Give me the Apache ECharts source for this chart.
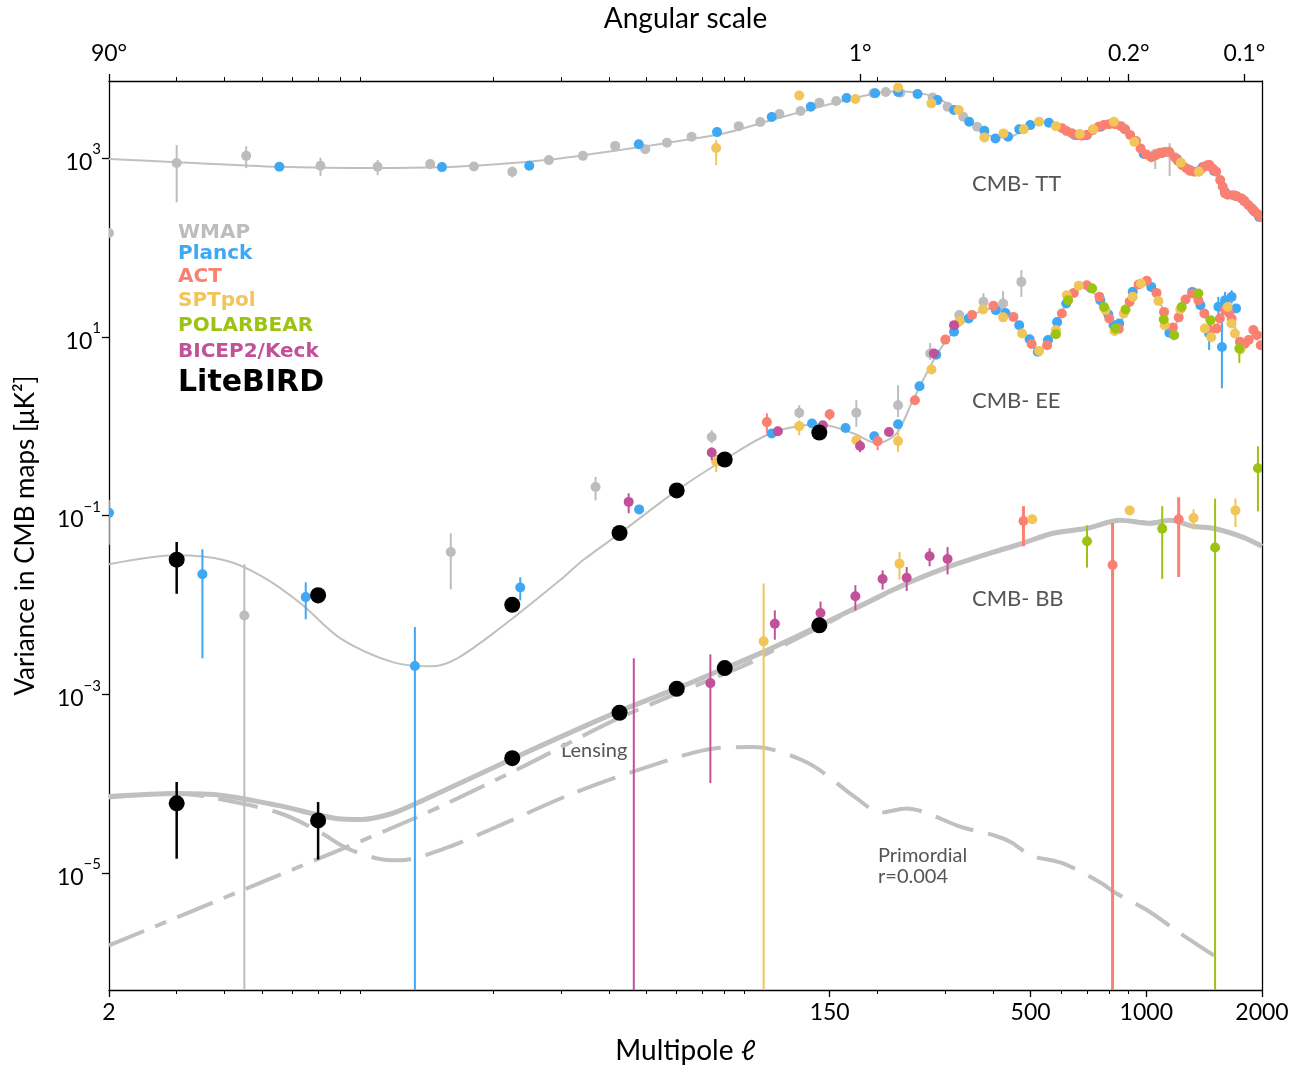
<!DOCTYPE html>
<html><head><meta charset="utf-8">
<script src="https://cdn.jsdelivr.net/npm/echarts@6/dist/echarts.min.js"></script>
<style>html,body{margin:0;padding:0;background:#fff}#c{width:1299px;height:1072px}</style>
</head><body><div id="c"></div>
<script>
// ---------------- axis ticks ----------------
const xTickLabels = [2, 150, 500, 1000, 2000];
const xMinorTicks = [3,4,5,6,7,8,9,20,30,40,50,60,70,80,90,200,300,400,600,700,800,900];
const topAngles = [90, 1, 0.2, 0.1];          // degrees, at ell = 180/theta
const yTickPowers = [-5, -3, -1, 1, 3];

// ---------------- theory curves [ell, D_ell in uK^2] ----------------
const ttTheory = [[2,975],[3,900],[5.5,800],[10,775],[14.4,790],[20,850],[27.4,950],[38,1146],[48,1327],[63,1592],[80,1900],[106,2667],[130,3400],[159,4266],[200,5346],[225,5600],[240,5523],[265,5200],[287,4699],[310,3800],[335,2897],[360,2300],[380,1906],[410,1700],[440,1720],[470,1950],[500,2250],[530,2500],[560,2560],[600,2300],[640,1950],[684,1780],[730,2050],[780,2350],[820,2450],[860,2250],[908,1750],[960,1300],[1007,1100],[1050,1080],[1100,1160],[1146,1190],[1200,1000],[1270,780],[1340,700],[1400,780],[1450,820],[1500,740],[1560,560],[1620,420],[1690,380],[1771,355],[1850,300],[1920,250],[2000,215]];
const eeTheory = [[2,0.0284],[3,0.0358],[4,0.0315],[5,0.0208],[6.3,0.0104],[8,0.00422],[11,0.00227],[13.9,0.00205],[16.1,0.00251],[20.8,0.00546],[29.8,0.0188],[34.2,0.0315],[42.7,0.0632],[60.1,0.191],[80.1,0.426],[107,0.855],[141.6,1.05],[172.6,0.832],[199,0.644],[224,0.832],[247,1.95],[286,6.5],[314,11.2],[348,16.6],[376,19.9],[409,20.9],[440,18.5],[467,13.5],[497,9.4],[523,6.7],[555,9.2],[586,14.6],[619,23.6],[650,31],[684,37.8],[720,33],[755,26],[800,16],[839,11.9],[880,19],[920,28],[960,38],[1005,40.8],[1060,31],[1110,19],[1167,11],[1230,20],[1300,30.8],[1380,22],[1440,15],[1493,11.9],[1560,16],[1623,19.9],[1700,13],[1755,7.6],[1850,9.5],[1920,11],[2000,11]];
const bbTotal = [[2,7.18e-5],[3,7.74e-5],[3.95,7.36e-5],[5.5,5.69e-5],[7.8,4.07e-5],[9.06,3.96e-5],[10.9,4.62e-5],[12.6,5.98e-5],[22.8,1.96e-4],[41.2,6.1e-4],[60.1,1.16e-3],[80.1,1.95e-3],[103,3.09e-3],[141.6,5.89e-3],[174.6,9.14e-3],[238.6,0.0174],[303,0.0263],[392,0.0378],[477,0.0489],[571,0.0632],[701,0.0719],[855,0.0884],[1023,0.0818],[1153,0.0884],[1324,0.0757],[1493,0.0719],[1787,0.057],[2000,0.0452]];
const bbLensing = [[2,1.54e-6],[4.49,6.5e-6],[12.6,4.17e-5],[22.8,1.40e-4],[41.2,5.09e-4],[60.1,1.02e-3],[90,2.1e-3],[103,2.83e-3],[142,5.7e-3],[175,9.0e-3],[239,0.0172],[303,0.0262],[392,0.0377],[477,0.0489],[571,0.0632],[701,0.0719],[855,0.0884],[1023,0.0818],[1153,0.0884],[1324,0.0757],[1493,0.0719],[1787,0.057],[2000,0.0452]];
const bbPrimordial = [[2,6.99e-5],[3,7.74e-5],[3.68,6.99e-5],[5.5,4.74e-5],[6.97,2.98e-5],[8.24,1.92e-5],[9.96,1.45e-5],[11.4,1.38e-5],[14.9,1.87e-5],[20.2,3.22e-5],[32.2,7.74e-5],[51.8,1.6e-4],[75.1,2.47e-4],[95.3,2.56e-4],[131.8,1.7e-4],[175,6.99e-5],[204,4.74e-5],[237,5.26e-5],[333,3.22e-5],[403,2.62e-5],[446,2.19e-5],[500,1.57e-5],[609,1.27e-5],[759,7.8e-6],[830,6.0e-6],[1008,3.79e-6],[1227,2.1e-6],[1500,1.19e-6]];

// ---------------- measurements [ell, D, low, high] (null D: only the bar is seen) ----------------
const wmapTT = [[2,145],[3,880,320,1400],[4.55,1060,773,1360],[7.1,820,633,1008],[10,800,645,950],[13.7,857,753,950],[17.8,807,740,880],[22.4,703,607,800],[27.9,950],[34.2,1060],[41.5,1370],[49.7,1260],[56.6,1484],[65.6,1733],[87,2280],[99,2530],[111,3110],[126,3360],[141,4160],[156,4350],[195,5310],[210,5490],[229,5390],[278,4770],[304,3760],[334,2900],[363,2240],[1055,1120,753,1230],[1150,1150,630,1470]];
const wmapEE = [[4.5,0.0076,1e-8,0.0284],[15.5,0.039,0.0149,0.063],[36.9,0.208,0.148,0.27],[74,0.757,0.644,0.9],[125,1.41,1.22,1.71],[176,1.41,0.98,1.95],[226,1.71,1.26,2.87],[274,6.5,5.5,8.5],[326,17.5,15.3,19.9],[377,24.6,20.9,30.8],[424,23.6,18.4,32.4],[473,41.2,28,55.7]];
const planckTT = [[5.55,800],[14.7,793],[24.8,820],[47.8,1430],[76.4,1955],[106,2880],[134,3760],[166,4700],[197,5310],[226,5490],[254,5210],[286,4460],[316,3450],[346,2550],[379,2020],[405,1660],[437,1730],[467,2100],[499,2340],[558,2490],[651,1810],[700,1800],[760,2250],[820,2450],[880,2100],[985,1110],[1100,1140],[1200,980],[1300,730],[1400,790],[1500,720],[1600,420],[1700,380],[1800,330],[1900,260],[1965,220]];
const planckEE = [[2,0.107,0.047,0.15],[3.5,0.022,0.00252,0.0419],[6.5,0.0122,0.00689,0.0179],[12.5,0.00207,1e-8,0.00564],[23.5,0.0156,0.0112,0.0203],[47.9,0.117],[77,0.42],[106,0.826],[135,1.07],[165,0.955],[196,0.77],[226,1.05],[257,2.8],[284,6.3],[316,11.4],[345,16.0],[406,19.9],[430,18.5],[467,13.5],[497,9.4],[522,6.8],[555,9.2],[586,14.6],[619,23.6],[718,35],[759,25.7],[796,17.9],[822,13.5],[850,14.1],[922,32],[1030,36.2],[1148,11.1],[1317,31.8],[1383,22.6],[1457,10.9,7.1,14.2],[1540,21.7,16.7,28],[1573,7.7,2.65,23.8],[1603,25.7,19.9,31.8],[1667,28,23.6,33.2],[1712,20.8]];
const actTT = [[604,2160],[620,2010],[640,1900],[660,1800],[680,1780],[700,1810],[725,2050],[751,2240],[775,2350],[800,2400],[830,2400],[859,2280],[880,2100],[908,1810],[940,1550],[966,1285],[1000,1100],[1030,1020],[1060,1080],[1085,1150],[1115,1170],[1146,1177],[1188,1018],[1210,930],[1240,830],[1274,766],[1300,720],[1335,703],[1380,730],[1414,800],[1440,830],[1460,835],[1490,760],[1520,703],[1557,567],[1580,480],[1603,403],[1630,390],[1683,385],[1720,375],[1768,354],[1800,330],[1843,298],[1880,275],[1915,251],[1950,235],[1990,218]];
const actEE = [[103,1.11,0.83,1.39],[150,1.36,1.16,1.55],[200,0.678,0.537,0.79],[250,1.95],[300,9.3],[352,17.5],[400,22.2],[451,16.7],[503,8.3],[552,8.05],[603,18.2],[648,31],[700,37.8],[755,28],[801,16.0],[848,12.2],[905,24.6],[955,38.5],[1003,42.3],[1063,31],[1112,19.0],[1173,12.7],[1214,16.5],[1265,26.2],[1317,30.5],[1366,25.7],[1416,18.2],[1463,11.9],[1524,12.4],[1554,16.0],[1603,19.9],[1643,18.5],[1667,16.0],[1752,8.8],[1800,8.3],[1847,9.2],[1899,11.9],[1940,10.4],[1985,8.05]];
const actBB = [[479,0.0867,0.0452,0.127],[817,0.0279,1e-8,0.0824],[1214,0.0906,0.0205,0.16]];
const sptTT = [[76,1300,835,1590],[125,5020],[175,4580],[226,6170],[276,4100],[325,3450],[379,1700],[425,1890],[480,2100],[526,2550],[582,2280],[672,1860],[727,2100],[823,2550],[931,1520],[1230,886],[1370,703]];
const sptEE = [[76,0.40,0.305,0.47],[125,1.0,0.79,1.16],[176,0.695],[226,0.68,0.51,0.9],[276,4.3],[327,15.0],[376,20.2],[424,16.5],[475,10.9],[526,6.95],[582,11.9],[621,29.2],[667,37.2],[783,19.9],[827,11.6],[874,18.2],[922,28],[969,39.5],[1075,25.2],[1117,13.5],[1226,20.2],[1420,12.4],[1475,9.9],[1628,21.6],[1666,14.1],[1700,10.9],[1758,7.2]];
const sptBB = [[101,0.0039,1e-8,0.0173],[228,0.0289,0.0191,0.039],[505,0.0906],[905,0.114],[1327,0.0938,0.0695,0.117],[1706,0.114,0.0743,0.155]];
const pbEE = [[582,10.7],[626,25.7],[723,34.7],[776,21.6],[831,12.4],[883,20.2],[1110,15.6],[1182,10.4],[1236,21.6],[1366,30.5],[1470,15.3],[1746,7.4,5.1,8.5]];
const pbBB = [[701,0.0514,0.0261,0.0776],[1100,0.0713,0.0195,0.127],[1510,0.0438,1e-8,0.155],[1952,0.338,0.111,0.596]];
const bkEE = [[45,0.142,0.106,0.177],[74,0.506,0.415,0.575],[110,0.877],[144,1.02],[180,0.60,0.51,0.695],[214,0.86],[280,6.5],[316,13.5]];
const bkBB = [[46.4,null,1e-8,0.00252],[73.4,0.00133,1.01e-4,0.00279],[108,0.00615,0.00407,0.00867],[142,0.0081,0.0064,0.0109],[175,0.01245,0.00867,0.0166],[206,0.0195,0.0148,0.0243],[238,0.0201,0.0143,0.0265],[273,0.0349,0.027,0.043],[304,0.0326,0.0219,0.0443]];
const litebirdEE = [[3,0.032,0.0133,0.0505],[7,0.0128,0.0104,0.0134],[22.4,0.010],[42.6,0.0637],[60,0.191],[80,0.423],[141,0.848]];
const litebirdBB = [[3,6.0e-5,1.44e-5,1.04e-4],[7,3.86e-5,1.41e-5,6.2e-5],[22.4,1.92e-4],[42.6,6.2e-4],[60,1.15e-3],[80,1.96e-3],[141,5.9e-3]];

// ---------------- styling ----------------
const FONT = "Lato, 'DejaVu Sans', sans-serif";
const COL = {wmap:'#bdbdbd', planck:'#3ea8f4', act:'#fa8072', spt:'#f1c558', pb:'#9cc314', bk:'#c2519a', lb:'#000000', theory:'#c0c0c0', text:'#555555'};
const yMin = -6.311, yMax = 3.863;

const lg = Math.log10;
const lineData = arr => arr.map(p => [lg(p[0]), lg(p[1])]);
const ptData = arr => arr.map(p => {
  const has = p[1] != null;
  const c = has ? lg(p[1]) : -12;
  const lo = p.length > 2 ? lg(p[2]) : c;
  const hi = p.length > 3 ? lg(p[3]) : c;
  return [lg(p[0]), c, lo, hi, has ? 1 : 0];
});

function theory(data, width, dash, z) {
  return {type:'line', xAxisIndex:0, yAxisIndex:0, data: lineData(data), showSymbol:false, smooth:0.3,
    silent:true, z: z || 2, lineStyle:{color:COL.theory, width, type: dash || 'solid', cap:'butt'}};
}
function points(data, color, r, w, z) {
  return {type:'custom', xAxisIndex:0, yAxisIndex:0, data: ptData(data), z: z, silent:true, clip:true,
    encode:{x:0, y:1},
    renderItem: function(params, api) {
      const cs = params.coordSys;
      const x = api.value(0), c = api.value(1), lo = api.value(2), hi = api.value(3), has = api.value(4);
      const p = api.coord([x, has ? c : yMin]);
      let yl = api.coord([x, lo])[1], yh = api.coord([x, hi])[1];
      const top = cs.y, bot = cs.y + cs.height;
      yl = Math.min(Math.max(yl, top), bot); yh = Math.min(Math.max(yh, top), bot);
      const ch = [];
      if (yl - yh > 0.5) ch.push({type:'line', shape:{x1:p[0], y1:yl, x2:p[0], y2:yh}, style:{stroke:color, lineWidth:w}});
      if (has) ch.push({type:'circle', shape:{cx:p[0], cy:p[1], r:r}, style:{fill:color}});
      return {type:'group', children: ch};
    }};
}

const xRange = {min: lg(2), max: lg(2000)};
const lblStyle = {fontFamily: FONT, fontSize: 23, color:'#000'};

const option = {
  animation: false,
  textStyle: {fontFamily: FONT},
  grid: {left:109, right:37, top:81, bottom:82, containLabel:false},
  xAxis: [
    {type:'value', position:'bottom', ...xRange,
      name:'Multipole \u2113', nameLocation:'middle', nameGap:47, nameTextStyle:{fontFamily:FONT, fontSize:28, color:'#000'},
      axisLine:{show:true, onZero:false, lineStyle:{color:'#000', width:1.3}},
      axisTick:{show:true, inside:false, length:7, customValues: xTickLabels.map(lg), lineStyle:{color:'#000', width:1.3}},
      axisLabel:{show:true, margin:11, customValues: xTickLabels.map(lg), formatter: v => String(Math.round(Math.pow(10, v))), ...lblStyle},
      splitLine:{show:false}},
    {type:'value', position:'top', ...xRange,
      name:'Angular scale', nameLocation:'middle', nameGap:48, nameTextStyle:{fontFamily:FONT, fontSize:28, color:'#000'},
      axisLine:{show:true, onZero:false, lineStyle:{color:'#000', width:1.3}},
      axisTick:{show:true, inside:false, length:7, customValues: topAngles.map(t => lg(180 / t)), lineStyle:{color:'#000', width:1.3}},
      axisLabel:{show:true, margin:16, customValues: topAngles.map(t => lg(180 / t)),
        formatter: v => { const th = 180 / Math.pow(10, v); return (th >= 1 ? String(Math.round(th)) : th.toFixed(1)) + '\u00b0'; }, ...lblStyle},
      splitLine:{show:false}},
    {type:'value', position:'bottom', ...xRange,
      axisLine:{show:false, onZero:false}, axisLabel:{show:false},
      axisTick:{show:true, inside:false, length:4, customValues: xMinorTicks.map(lg), lineStyle:{color:'#000', width:1}},
      splitLine:{show:false}},
    {type:'value', position:'top', ...xRange,
      axisLine:{show:false, onZero:false}, axisLabel:{show:false},
      axisTick:{show:true, inside:false, length:4, customValues: xMinorTicks.map(lg), lineStyle:{color:'#000', width:1}},
      splitLine:{show:false}}
  ],
  yAxis: [
    {type:'value', position:'left', min:yMin, max:yMax,
      name:'Variance in CMB maps [\u03bcK\u00b2]', nameLocation:'middle', nameGap:70,
      nameTextStyle:{fontFamily:FONT, fontSize:26, color:'#000'},
      axisLine:{show:true, onZero:false, lineStyle:{color:'#000', width:1.3}},
      axisTick:{show:true, inside:false, length:7, customValues: yTickPowers, lineStyle:{color:'#000', width:1.3}},
      axisLabel:{show:true, margin:8, customValues: yTickPowers,
        formatter: v => '{b|10}{s|' + (v < 0 ? '\u2212' + (-v) : v) + '}',
        rich:{b:{fontFamily:FONT, fontSize:23, color:'#000', lineHeight:32, verticalAlign:'bottom'},
              s:{fontFamily:FONT, fontSize:15, color:'#000', lineHeight:16, verticalAlign:'top'}}},
      splitLine:{show:false}},
    {type:'value', position:'right', min:yMin, max:yMax,
      axisLine:{show:true, onZero:false, lineStyle:{color:'#000', width:1.3}},
      axisTick:{show:false}, axisLabel:{show:false}, splitLine:{show:false}}
  ],
  graphic: [
    {type:'text', x:972, y:184, style:{text:'CMB- TT', font:'22px ' + FONT, fill:COL.text, verticalAlign:'middle'}},
    {type:'text', x:972, y:401, style:{text:'CMB- EE', font:'22px ' + FONT, fill:COL.text, verticalAlign:'middle'}},
    {type:'text', x:972, y:599, style:{text:'CMB- BB', font:'22px ' + FONT, fill:COL.text, verticalAlign:'middle'}},
    {type:'text', x:561, y:751, style:{text:'Lensing', font:'20px ' + FONT, fill:COL.text, verticalAlign:'middle'}},
    {type:'text', x:878, y:856, style:{text:'Primordial', font:'20px ' + FONT, fill:COL.text, verticalAlign:'middle'}},
    {type:'text', x:878, y:877, style:{text:'r=0.004', font:'20px ' + FONT, fill:COL.text, verticalAlign:'middle'}},
    {type:'text', x:178, y:233, style:{text:'WMAP', font:"bold 20px 'DejaVu Sans'", fill:COL.wmap, verticalAlign:'middle'}},
    {type:'text', x:178, y:254, style:{text:'Planck', font:"bold 20px 'DejaVu Sans'", fill:COL.planck, verticalAlign:'middle'}},
    {type:'text', x:178, y:277, style:{text:'ACT', font:"bold 20px 'DejaVu Sans'", fill:COL.act, verticalAlign:'middle'}},
    {type:'text', x:178, y:301, style:{text:'SPTpol', font:"bold 20px 'DejaVu Sans'", fill:COL.spt, verticalAlign:'middle'}},
    {type:'text', x:178, y:326, style:{text:'POLARBEAR', font:"bold 20px 'DejaVu Sans'", fill:COL.pb, verticalAlign:'middle'}},
    {type:'text', x:178, y:352, style:{text:'BICEP2/Keck', font:"bold 20px 'DejaVu Sans'", fill:COL.bk, verticalAlign:'middle'}},
    {type:'text', x:178, y:383, style:{text:'LiteBIRD', font:"bold 30px 'DejaVu Sans'", fill:COL.lb, verticalAlign:'middle'}}
  ],
  series: [
    theory(ttTheory, 2),
    theory(eeTheory, 2),
    theory(bbPrimordial, 4, [40, 15]),
    theory(bbLensing, 4, [38, 12, 12, 12]),
    theory(bbTotal, 5, 'solid', 3),
    points(wmapTT.concat(wmapEE), COL.wmap, 5, 2, 10),
    points(planckTT.concat(planckEE), COL.planck, 5, 2, 11),
    points(actTT.concat(actEE), COL.act, 5, 2, 12),
    points(actBB, COL.act, 5, 3, 12),
    points(sptTT.concat(sptEE, sptBB), COL.spt, 5, 2, 13),
    points(pbEE.concat(pbBB), COL.pb, 5, 2, 14),
    points(bkEE.concat(bkBB), COL.bk, 5, 2, 15),
    points(litebirdEE.concat(litebirdBB), COL.lb, 8, 2.5, 16)
  ]
};
const chart = echarts.init(document.getElementById('c'), null, {renderer:'canvas'});
chart.setOption(option);
</script></body></html>
